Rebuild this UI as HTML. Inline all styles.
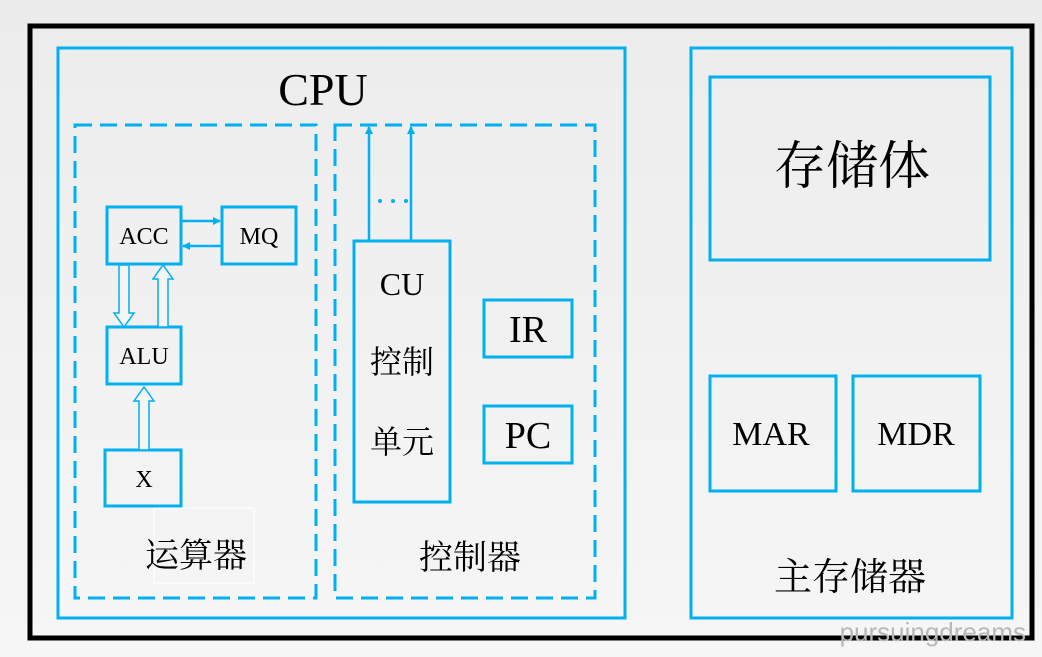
<!DOCTYPE html>
<html><head><meta charset="utf-8"><style>
html,body{margin:0;padding:0;background:#f0f0f0;}
svg{display:block}
text{font-family:"Liberation Serif","Noto Serif CJK SC","Noto Sans CJK SC",serif;fill:#000}
</style></head><body>
<svg width="1042" height="657" viewBox="0 0 1042 657" xmlns="http://www.w3.org/2000/svg">
<defs>
<linearGradient id="g" x1="0" y1="0" x2="0" y2="1"><stop offset="0" stop-color="#ececec"/><stop offset="1" stop-color="#f6f6f6"/></linearGradient>
<marker id="ah" markerWidth="8" markerHeight="8" refX="7" refY="4" orient="auto" markerUnits="userSpaceOnUse"><path d="M0,0 L8,4 L0,8 Z" fill="#00b0f0"/></marker>
</defs>
<rect width="1042" height="657" fill="url(#g)"/>
<rect x="30" y="26" width="1002" height="612" fill="none" stroke="#000" stroke-width="5"/>
<g fill="none" stroke="#00b0f0" stroke-width="3">
<rect x="58" y="48" width="567" height="570"/>
<rect x="691" y="48" width="321" height="570"/>
<rect x="75" y="125" width="241" height="473" stroke-dasharray="17,8"/>
<rect x="335" y="125" width="260" height="473" stroke-dasharray="17,8"/>
<rect x="107" y="207" width="74" height="57"/>
<rect x="222" y="207" width="74" height="57"/>
<rect x="107" y="327" width="74" height="57"/>
<rect x="105" y="450" width="76" height="56"/>
<rect x="354" y="241" width="96" height="261"/>
<rect x="484" y="300" width="88" height="57"/>
<rect x="484" y="406" width="88" height="57"/>
<rect x="710" y="77" width="280" height="183"/>
<rect x="710" y="376" width="126" height="115"/>
<rect x="853" y="376" width="127" height="115"/>
</g>
<g stroke="#00b0f0" stroke-width="2.5">
<line x1="181" y1="221" x2="220" y2="221" marker-end="url(#ah)"/>
<line x1="222" y1="246" x2="183" y2="246" marker-end="url(#ah)"/>
<line x1="369" y1="241" x2="369" y2="127" marker-end="url(#ah)"/>
<line x1="411" y1="241" x2="411" y2="127" marker-end="url(#ah)"/>
</g>
<g fill="#00b0f0"><circle cx="380" cy="201" r="2"/><circle cx="393" cy="201" r="2"/><circle cx="406" cy="201" r="2"/></g>
<g fill="#f5f5f5" stroke="#00b0f0" stroke-width="1.5">
<path d="M119,265 L129,265 L129,313 L134,313 L124,327 L114,313 L119,313 Z"/>
<path d="M158,327 L168,327 L168,279 L173,279 L163,265 L153,279 L158,279 Z"/>
<path d="M139,450 L149,450 L149,401 L154,401 L144,387 L134,401 L139,401 Z"/>
</g>
<rect x="154" y="508" width="100" height="75" fill="none" stroke="#fff" stroke-width="1"/>
<text x="323" y="105" font-size="46" text-anchor="middle">CPU</text>
<text x="144" y="244" font-size="24" text-anchor="middle">ACC</text>
<text x="259" y="244" font-size="24" text-anchor="middle">MQ</text>
<text x="144" y="364" font-size="24" text-anchor="middle">ALU</text>
<text x="144" y="487" font-size="24" text-anchor="middle">X</text>
<text x="402" y="295" font-size="32" text-anchor="middle">CU</text>
<text x="402" y="373" font-size="32" text-anchor="middle">控制</text>
<text x="402" y="453" font-size="32" text-anchor="middle">单元</text>
<text x="528" y="342" font-size="38" text-anchor="middle">IR</text>
<text x="528" y="448" font-size="38" text-anchor="middle">PC</text>
<text x="196" y="567" font-size="34" text-anchor="middle">运算器</text>
<text x="470" y="569" font-size="34" text-anchor="middle">控制器</text>
<text x="852" y="184" font-size="52" text-anchor="middle">存储体</text>
<text x="771" y="445" font-size="34" text-anchor="middle">MAR</text>
<text x="916" y="445" font-size="34" text-anchor="middle">MDR</text>
<text x="850" y="590" font-size="38" text-anchor="middle">主存储器</text>
<text x="1026" y="641" font-size="26" text-anchor="end" style="font-family:'Liberation Sans',sans-serif;fill:#b8b8b8">pursuingdreams</text>
</svg>
</body></html>
